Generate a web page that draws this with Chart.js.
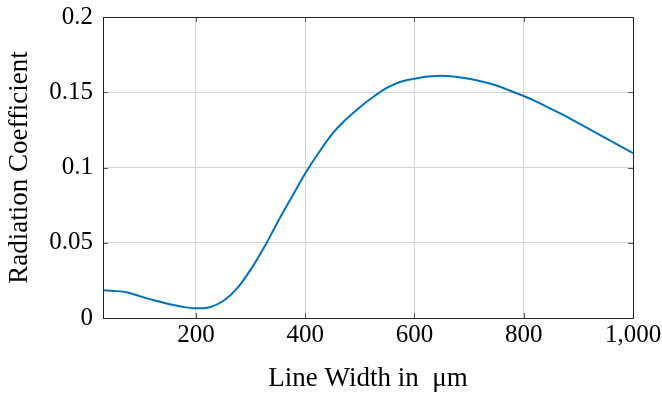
<!DOCTYPE html>
<html>
<head>
<meta charset="utf-8">
<script src="https://cdn.jsdelivr.net/npm/chart.js@4"></script>
<style>
  html, body { margin: 0; padding: 0; background: #fff; }
  #wrap { width: 662px; height: 399px; }
</style>
</head>
<body>
<div id="wrap"><canvas id="myChart" width="662" height="399"></canvas></div>
<script>
const widths = [30, 50, 75, 100, 125, 150, 175, 200, 225, 250, 275, 300, 325, 350, 375, 400,
  425, 450, 475, 500, 525, 550, 575, 600, 625, 650, 675, 700, 725, 750, 775, 800,
  825, 850, 875, 900, 925, 950, 975, 1000];
const coeff = [0.0184, 0.0180, 0.0170, 0.0142, 0.0116, 0.0093, 0.0075, 0.0064, 0.0072, 0.0113,
  0.0195, 0.032, 0.047, 0.064, 0.080, 0.096, 0.110, 0.1225, 0.132, 0.140, 0.147, 0.153,
  0.157, 0.159, 0.1605, 0.161, 0.1603, 0.159, 0.157, 0.1545, 0.151, 0.1475, 0.1435,
  0.139, 0.1345, 0.1295, 0.1245, 0.1195, 0.1145, 0.1095];

const xTicks = [200, 400, 600, 800, 1000];
const xTickLabels = ["200", "400", "600", "800", "1,000"];
const yTicks = [0, 0.05, 0.1, 0.15, 0.2];
const yTickLabels = ["0", "0.05", "0.1", "0.15", "0.2"];

const serif = "'Liberation Serif', 'Times New Roman', serif";

// frame + inward tick marks like pgfplots
const frame = {
  id: "frame",
  afterDraw(chart) {
    const { ctx, chartArea: a, scales } = chart;
    ctx.save();
    ctx.strokeStyle = "#555";
    ctx.lineWidth = 1;
    ctx.beginPath();
    xTicks.forEach(v => {
      const px = Math.round(scales.x.getPixelForValue(v)) + 0.5;
      ctx.moveTo(px, a.bottom); ctx.lineTo(px, a.bottom - 5);
      ctx.moveTo(px, a.top); ctx.lineTo(px, a.top + 5);
    });
    yTicks.forEach(v => {
      const py = Math.round(scales.y.getPixelForValue(v)) + 0.5;
      ctx.moveTo(a.left, py); ctx.lineTo(a.left + 5, py);
      ctx.moveTo(a.right, py); ctx.lineTo(a.right - 5, py);
    });
    ctx.stroke();
    ctx.strokeStyle = "#222";
    ctx.strokeRect(Math.round(a.left) + 0.5, Math.round(a.top) + 0.5,
      Math.round(a.right - a.left), Math.round(a.bottom - a.top));
    ctx.restore();
  }
};

const noOverhang = s => {
  s.paddingTop = 0; s.paddingBottom = 0; s.paddingLeft = 0; s.paddingRight = 0;
};

new Chart(document.getElementById("myChart"), {
  type: "line",
  data: {
    datasets: [{
      data: widths.map((w, i) => ({ x: w, y: coeff[i] })),
      borderColor: "#0072BD",
      borderWidth: 2,
      pointRadius: 0,
      fill: false,
      cubicInterpolationMode: "monotone",
    }],
  },
  options: {
    responsive: false,
    animation: false,
    layout: { padding: { top: 17, right: 29, left: 0, bottom: 0 } },
    plugins: { legend: { display: false }, tooltip: { enabled: false } },
    scales: {
      x: {
        type: "linear",
        min: 30,
        max: 1000,
        afterBuildTicks: s => { s.ticks = xTicks.map(v => ({ value: v })); },
        afterFit: s => { s.height = 81; noOverhang(s); },
        ticks: {
          color: "#000",
          font: { family: serif, size: 25 },
          padding: 2,
          maxRotation: 0,
          callback: v => xTickLabels[xTicks.indexOf(v)],
        },
        grid: { color: "#d4d4d4", drawTicks: false },
        border: { display: false },
        title: {
          display: true,
          text: "Line Width in  μm",
          color: "#000",
          font: { family: serif, size: 27 },
          padding: { top: 4, bottom: 4 },
        },
      },
      y: {
        min: 0,
        max: 0.2,
        afterBuildTicks: s => { s.ticks = yTicks.map(v => ({ value: v })); },
        afterFit: s => { s.width = 103; noOverhang(s); },
        ticks: {
          color: "#000",
          font: { family: serif, size: 25 },
          padding: 10,
          callback: v => yTickLabels[yTicks.indexOf(v)],
        },
        grid: { color: "#d4d4d4", drawTicks: false },
        border: { display: false },
        title: {
          display: true,
          text: "Radiation Coefficient",
          color: "#000",
          font: { family: serif, size: 27 },
          padding: { top: 4, bottom: 0 },
        },
      },
    },
  },
  plugins: [frame],
});
</script>
</body>
</html>
